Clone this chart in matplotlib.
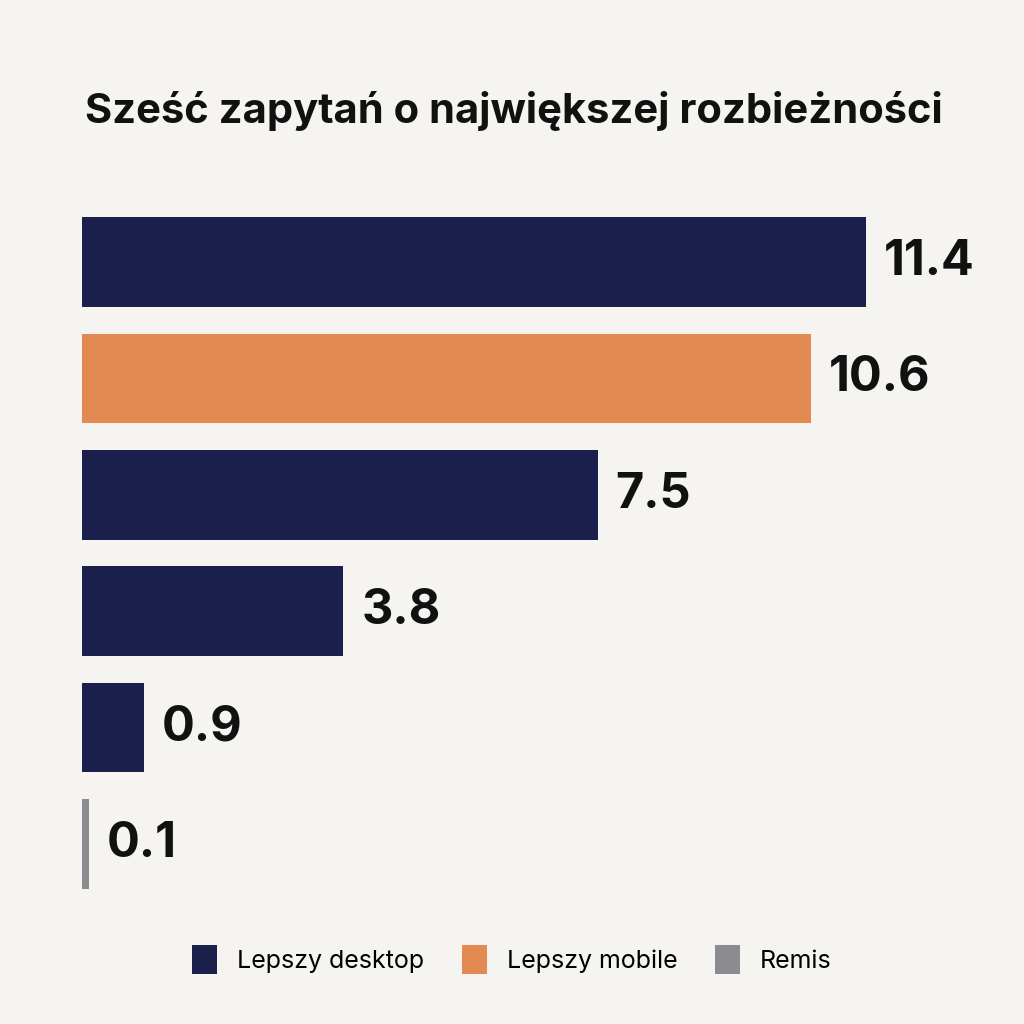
import matplotlib.pyplot as plt
from matplotlib.patches import Patch

# dane
labels = ["11.4", "10.6", "7.5", "3.8", "0.9", "0.1"]
values = [11.4, 10.6, 7.5, 3.8, 0.9, 0.1]
groups = ["desktop", "mobile", "desktop", "desktop", "desktop", "remis"]

colors = {"desktop": "#1b1f4c", "mobile": "#e38a52", "remis": "#8a8c8f"}
legend_names = {"desktop": "Lepszy desktop", "mobile": "Lepszy mobile", "remis": "Remis"}
bg = "#f5f4f1"

plt.rcParams["font.family"] = ["Inter", "DejaVu Sans"]

fig = plt.figure(figsize=(10.24, 10.24), dpi=100, facecolor=bg)
ax = fig.add_axes([0.080, 0.132, 0.896, 0.656])
ax.set_facecolor(bg)

ypos = list(range(len(values)))
bar_colors = [colors[g] for g in groups]
ax.barh(ypos, values, height=0.77, color=bar_colors)

for y, v, lab in zip(ypos, values, labels):
    ax.text(v + 0.26, y, lab, va="center", ha="left", fontsize=35,
            fontweight="bold", color="#111111")

ax.set_xlim(0, 13.34)
ax.set_ylim(len(values) - 1 + 0.385, -0.385)
ax.axis("off")

fig.text(0.083, 0.892, "Sześć zapytań o największej rozbieżności",
         fontsize=30, fontweight="bold", color="#111111", va="center", ha="left")

handles = [Patch(facecolor=colors[k], edgecolor="none", label=legend_names[k])
           for k in ["desktop", "mobile", "remis"]]
fig.legend(handles=handles, loc="center", bbox_to_anchor=(0.5, 0.063), ncol=3,
           frameon=False, fontsize=18, handlelength=1.0, handleheight=1.4,
           handletextpad=0.8, columnspacing=1.5)

fig.savefig("out.png", dpi=100, facecolor=bg)
